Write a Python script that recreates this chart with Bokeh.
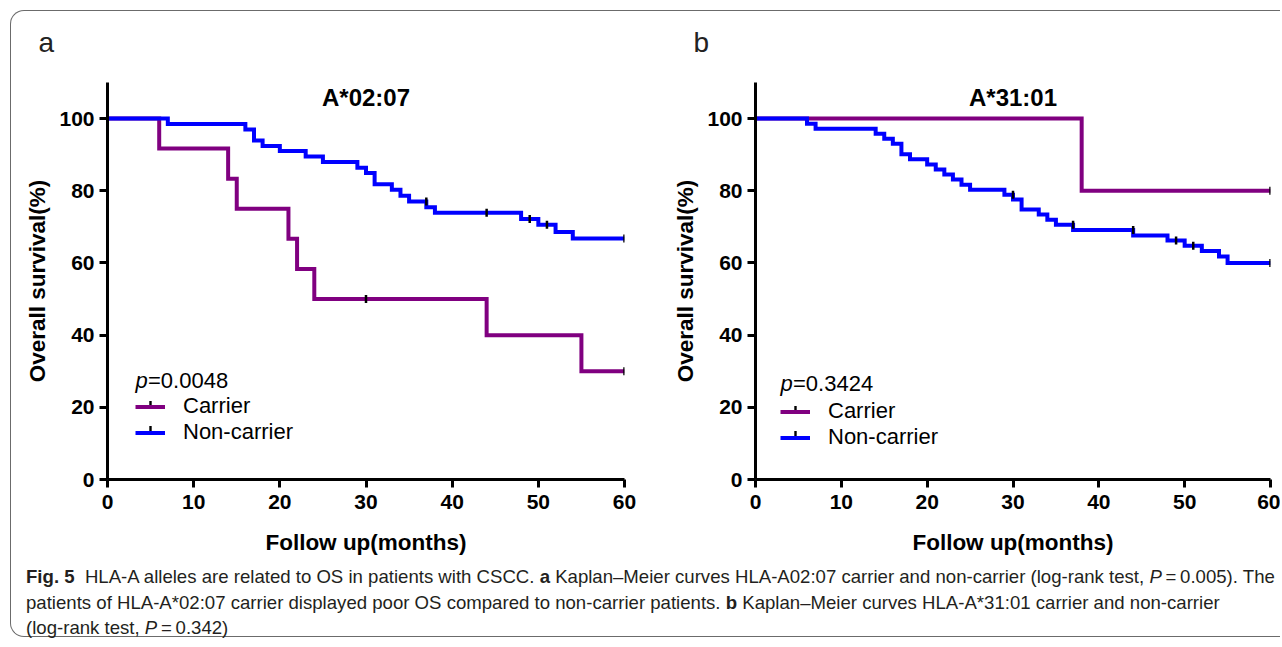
from bokeh.plotting import figure
from bokeh.models import Label, Legend, LegendItem, Div, FixedTicker, Range1d, Title, BoxAnnotation
from bokeh.layouts import row, column
from bokeh.embed import file_html
from bokeh.resources import INLINE
import math

# ---------------- data ----------------
month_ticks = [0, 10, 20, 30, 40, 50, 60]
survival_ticks = [0, 20, 40, 60, 80, 100]

# Panel a : A*02:07
a_title = "A*02:07"
a_pvalue = "=0.0048"
a_carrier_t = [0, 6, 14, 15, 21, 22, 24, 44, 55, 60]
a_carrier_s = [100, 91.7, 83.3, 75.0, 66.7, 58.3, 50.0, 40.0, 30.0, 30.0]
a_carrier_cens_t = [30, 60]
a_carrier_cens_s = [50.0, 30.0]
a_non_t = [0, 7, 16, 17, 18, 20, 23, 25, 29, 30, 31, 33, 34, 35, 37, 38, 48, 50, 52, 54, 60]
a_non_s = [100, 98.5, 97.0, 93.9, 92.4, 91.0, 89.5, 88.0, 86.4, 84.9, 81.8, 80.3, 78.6, 77.0,
           75.4, 73.9, 72.2, 70.6, 68.6, 66.8, 66.8]
a_non_cens_t = [37, 44, 49, 51, 60]
a_non_cens_s = [77.0, 73.9, 72.2, 70.6, 66.8]

# Panel b : A*31:01
b_title = "A*31:01"
b_pvalue = "=0.3424"
b_carrier_t = [0, 38, 60]
b_carrier_s = [100, 80, 80]
b_carrier_cens_t = [60]
b_carrier_cens_s = [80]
b_non_t = [0, 6, 7, 14, 15, 16, 17, 18, 20, 21, 22, 23, 24, 25, 29, 30, 31, 33, 34, 35, 37,
           44, 48, 50, 52, 54, 55, 60]
b_non_s = [100, 98.6, 97.2, 95.8, 94.4, 93.0, 90.1, 88.7, 87.3, 85.9, 84.5, 83.1, 81.7, 80.3,
           78.9, 77.6, 74.8, 73.4, 72.0, 70.6, 69.1, 67.6, 66.2, 64.8, 63.3, 61.8, 60.0, 60.0]
b_non_cens_t = [30, 37, 44, 49, 51, 60]
b_non_cens_s = [78.9, 70.6, 69.1, 66.2, 64.8, 60.0]

series_labels = ["Carrier", "Non-carrier"]
series_colors = ["#800080", "#0000FF"]

FONT = "Liberation Sans"


def make_panel(letter, title, pval, ct, cs, cct, ccs, nt, ns, nct, ncs,
               width, bl, br, letter_off, legend_x, legend_y, p_y):
    p = figure(width=width, height=559, x_range=Range1d(0, 60), y_range=Range1d(0, 110),
               output_backend="svg", toolbar_location=None,
               min_border_left=bl, min_border_right=br, min_border_top=81, min_border_bottom=81,
               background_fill_color="white", border_fill_color="white", border_fill_alpha=0,
               outline_line_color=None)
    p.grid.visible = False
    for ax in (p.xaxis[0], p.yaxis[0]):
        ax.axis_line_width = 3
        ax.axis_line_color = "black"
        ax.major_tick_line_width = 3
        ax.major_tick_out = 8
        ax.major_tick_in = 0
        ax.minor_tick_line_color = None
        ax.major_label_text_font = FONT
        ax.major_label_text_font_style = "bold"
        ax.major_label_text_font_size = "21px"
        ax.major_label_text_color = "black"
        ax.axis_label_text_font = FONT
        ax.axis_label_text_font_style = "bold"
        ax.axis_label_text_font_size = "22.5px"
        ax.axis_label_text_color = "black"
    p.xaxis.major_label_standoff = 7
    p.yaxis.major_label_standoff = 5
    p.xaxis.ticker = FixedTicker(ticks=month_ticks)
    p.yaxis.ticker = FixedTicker(ticks=survival_ticks)
    p.xaxis.axis_label = "Follow up(months)"
    p.yaxis.axis_label = "Overall survival(%)"
    p.xaxis.axis_label_standoff = 18
    p.yaxis.axis_label_standoff = 6

    p.add_layout(Title(text=letter, align="left", vertical_align="top", offset=letter_off,
                       standoff=45, text_font=FONT, text_font_style="normal",
                       text_font_size="28px", text_color="#222222"), "above")

    rc = p.step(ct, cs, mode="after", line_color=series_colors[0], line_width=4,
                line_join="miter")
    rn = p.step(nt, ns, mode="after", line_color=series_colors[1], line_width=4,
                line_join="miter")
    p.scatter(cct, ccs, marker="dash", angle=math.pi / 2, size=8,
              line_color="black", line_width=2.5)
    p.scatter(nct, ncs, marker="dash", angle=math.pi / 2, size=8,
              line_color="black", line_width=2.5)

    legend = Legend(items=[LegendItem(label=series_labels[0], renderers=[rc]),
                           LegendItem(label=series_labels[1], renderers=[rn])],
                    location=(legend_x, legend_y),
                    background_fill_alpha=0, border_line_color=None,
                    padding=0, margin=0, spacing=0,
                    glyph_width=30, glyph_height=25, label_height=25,
                    label_standoff=18, label_text_font=FONT,
                    label_text_font_size="22px", label_text_color="black")
    p.add_layout(legend)
    # small censor ticks on the legend samples
    cx = legend_x + 15
    for cy in (legend_y + 37.5, legend_y + 12.5):
        p.add_layout(BoxAnnotation(left=cx - 1.2, right=cx + 1.2, bottom=cy, top=cy + 7,
                                   left_units="screen", right_units="screen",
                                   bottom_units="screen", top_units="screen",
                                   fill_color="black", fill_alpha=1, line_color=None,
                                   level="overlay"))

    p.add_layout(Label(x=legend_x, y=p_y, x_units="screen", y_units="screen", text="p",
                       text_font=FONT, text_font_style="italic", text_font_size="22px",
                       text_baseline="middle", text_color="black"))
    p.add_layout(Label(x=legend_x + 12.5, y=p_y, x_units="screen", y_units="screen",
                       text=pval, text_font=FONT, text_font_size="22px",
                       text_baseline="middle", text_color="black"))
    p.add_layout(Label(x=30, y=105.8, text=title, text_font=FONT, text_font_style="bold",
                       text_font_size="24px", text_align="center", text_baseline="middle",
                       text_color="black"))
    return p


pa = make_panel("a", a_title, a_pvalue, a_carrier_t, a_carrier_s, a_carrier_cens_t,
                a_carrier_cens_s, a_non_t, a_non_s, a_non_cens_t, a_non_cens_s,
                width=640, bl=96, br=27, letter_off=-69, legend_x=28, legend_y=34, p_y=99)
pb = make_panel("b", b_title, b_pvalue, b_carrier_t, b_carrier_s, b_carrier_cens_t,
                b_carrier_cens_s, b_non_t, b_non_s, b_non_cens_t, b_non_cens_s,
                width=629, bl=104, br=10, letter_off=-62, legend_x=25, legend_y=29, p_y=96)

caption_html = (
    '<div style="font-family: \'Liberation Sans\', Arial, sans-serif; font-size: 18.6px; '
    'line-height: 25.5px; color: #231f20; white-space: nowrap; padding: 4px 0 0 10px;">'
    '<b>Fig. 5</b>&nbsp; HLA-A alleles are related to OS in patients with CSCC. <b>a</b> '
    'Kaplan–Meier curves HLA-A02:07 carrier and non-carrier (log-rank test, '
    '<i>P</i>&thinsp;=&thinsp;0.005). The<br>'
    'patients of HLA-A*02:07 carrier displayed poor OS compared to non-carrier patients. '
    '<b>b</b> Kaplan–Meier curves HLA-A*31:01 carrier and non-carrier<br>'
    '(log-rank test, <i>P</i>&thinsp;=&thinsp;0.342)</div>'
)
cap = Div(text=caption_html, width=1264, height=76, margin=(0, 0, 0, 5))

layout = column(row(pa, pb, margin=(-10, 0, 0, 0)), cap, margin=(10, 0, 0, 10),
                styles={"border": "1px solid #6b6b6b", "border-right": "none",
                        "border-radius": "14px 0 0 14px", "background": "white"})

open("out.html", "w").write(file_html(layout, INLINE))
